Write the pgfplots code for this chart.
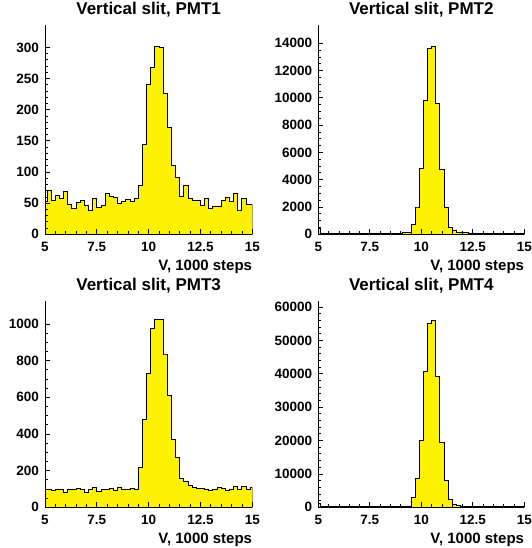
\documentclass[border=0pt]{standalone}
\usepackage{fontspec}
\setmainfont{Liberation Sans}
\usepackage{pgfplots}
\usepackage{pgfplotstable}
\pgfplotsset{compat=1.18}

% bin centres (width 0.2) and counts for the four PMTs
\pgfplotstableread{
x    p1  p2    p3   p4
5.0  52  450   95   1300
5.2  70  90    100  180
5.4  54  70    92   150
5.6  63  80    100  120
5.8  58  60    95   160
6.0  68  75    80   140
6.2  48  85    98   130
6.4  41  70    100  170
6.6  51  65    105  150
6.8  54  80    100  120
7.0  46  70    82   140
7.2  38  90    100  160
7.4  58  75    108  130
7.6  43  60    85   150
7.8  46  80    95   140
8.0  65  70    100  170
8.2  60  85    105  150
8.4  59  75    92   130
8.6  49  80    110  160
8.8  53  70    95   150
9.0  56  90    100  180
9.2  52  100   105  220
9.4  57  140   100  400
9.6  79  750   216  2980
9.8  145 2000  480  8640
10.0 241 4790  729  20170
10.2 268 9800  973  40730
10.4 302 13650 1025 55030
10.6 300 13750 1025 56030
10.8 226 9600  836  39340
11.0 172 4760  609  19370
11.2 111 1950  369  7950
11.4 91  500   273  2480
11.6 60  250   160  900
11.8 78  170   140  500
12.0 57  120   118  350
12.2 55  100   107  280
12.4 55  90    102  250
12.6 46  85    105  220
12.8 57  80    95   200
13.0 42  75    90   190
13.2 44  80    100  180
13.4 44  70    110  170
13.6 54  75    105  160
13.8 59  65    90   170
14.0 52  70    100  150
14.2 66  75    115  160
14.4 39  60    100  140
14.6 57  70    112  150
14.8 48  65    95   140
15.0 48  70    108  150
}\hist

\pgfplotsset{
  rootpad/.style={
    scale only axis, axis on top,
    xmin=5, xmax=15, ymin=0,
    axis lines=left,
    axis line style={-, line width=0.8pt},
    xtick={5,7.5,10,12.5,15}, minor x tick num=4,
    tick align=inside, major tick length=5pt, minor tick length=2.8pt,
    every tick/.style={black, line width=0.8pt},
    scaled ticks=false,
    ticklabel style={font=\fontsize{13.5}{14}\selectfont\bfseries, inner sep=0pt},
    yticklabel style={anchor=east, xshift=-6pt},
    xticklabel style={anchor=north, yshift=-8pt},
    /pgf/number format/fixed,
    /pgf/number format/1000 sep={},
    /pgf/number format/assume math mode=true,
    title style={at={(0.5,1)}, anchor=base, yshift=4.5pt, inner sep=0pt,
      font=\fontsize{17}{17}\selectfont\bfseries},
    xlabel={V, 1000 steps},
    xlabel style={at={(axis description cs:1,0)}, anchor=base east,
      yshift=-36pt, inner sep=0pt, font=\fontsize{15}{15}\selectfont\bfseries},
  },
}

\begin{document}
\begin{tikzpicture}
\useasboundingbox (0,0) rectangle (531pt,548pt);

\begin{axis}[rootpad, at={(45pt,313.7pt)}, anchor=south west,
  width=207.3pt, height=209.3pt, ymax=336,
  ytick={0,50,...,300}, minor y tick num=4,
  title={Vertical slit, PMT1}]
\addplot[const plot mark mid, fill=yellow, draw=black, line width=0.9pt]
  table[x=x, y=p1] {\hist} \closedcycle;
\end{axis}

\begin{axis}[rootpad, at={(318.3pt,313.7pt)}, anchor=south west,
  width=206pt, height=209.3pt, ymax=15340,
  ytick={0,2000,...,14000}, minor y tick num=3,
  title={Vertical slit, PMT2}]
\addplot[const plot mark mid, fill=yellow, draw=black, line width=0.9pt]
  table[x=x, y=p2] {\hist} \closedcycle;
\end{axis}

\begin{axis}[rootpad, at={(45pt,40.7pt)}, anchor=south west,
  width=207.3pt, height=206.3pt, ymax=1125,
  ytick={0,200,...,1000}, minor y tick num=3,
  title={Vertical slit, PMT3}]
\addplot[const plot mark mid, fill=yellow, draw=black, line width=0.9pt]
  table[x=x, y=p3] {\hist} \closedcycle;
\end{axis}

\begin{axis}[rootpad, at={(318.3pt,40.7pt)}, anchor=south west,
  width=206pt, height=206.3pt, ymax=61800,
  ytick={0,10000,...,60000}, minor y tick num=4,
  title={Vertical slit, PMT4}]
\addplot[const plot mark mid, fill=yellow, draw=black, line width=0.9pt]
  table[x=x, y=p4] {\hist} \closedcycle;
\end{axis}
\end{tikzpicture}
\end{document}
